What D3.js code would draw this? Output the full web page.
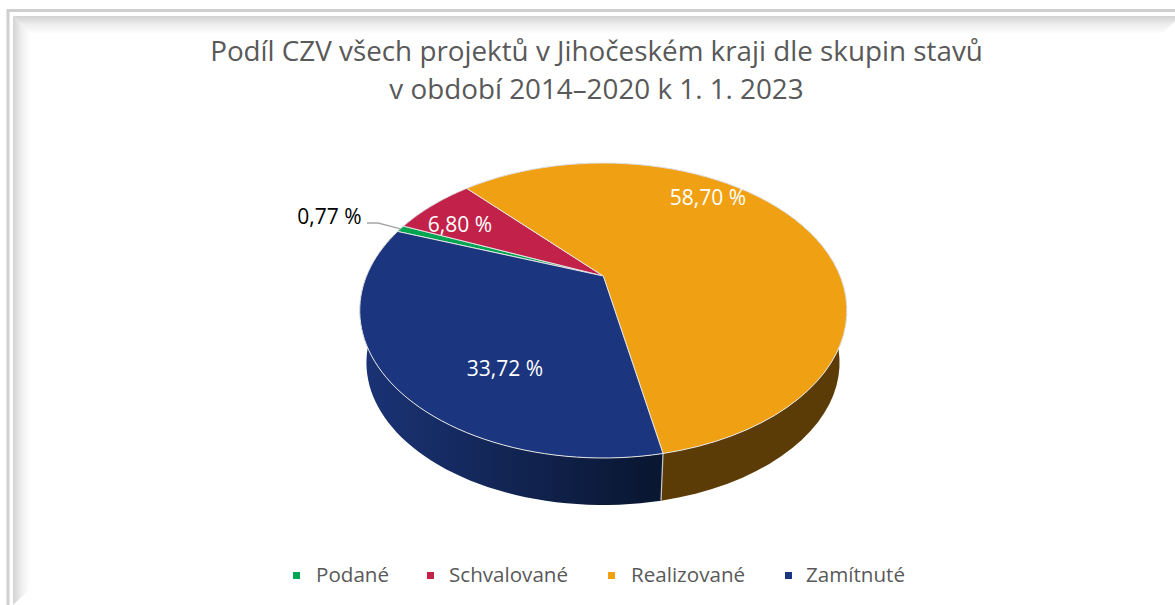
<!DOCTYPE html>
<html lang="cs"><head><meta charset="utf-8">
<script src="https://cdn.jsdelivr.net/npm/d3@7/dist/d3.min.js"></script>
<style>html,body{margin:0;padding:0;background:#fff;overflow:hidden}svg{display:block}text{font-family:"Open Sans","Noto Sans",sans-serif}</style>
</head><body><svg id="c" width="1175" height="605"></svg>
<script>
const categories = ["Podané","Schvalované","Realizované","Zamítnuté"];
const shares = [0.77,6.80,58.70,33.72];
const shareLabels = ["0,77 %","6,80 %","58,70 %","33,72 %"];
const colors = ["#00a651","#c2224a","#f0a013","#1b367e"];
const sideColors = [["#006a33","#006a33"],["#7a152f","#7a152f"],["#5c3c06","#5c3c06"],["#1a3375","#0a1733"]];
const titleLines = ["Podíl CZV všech projektů v Jihočeském kraji dle skupin stavů","v období 2014–2020 k 1. 1. 2023"];
const firstSliceDeg = -69.8;

const svg = d3.select("#c");
const defs = svg.append("defs");

// bevelled frame
const frameGrad = (id,x1,y1,x2,y2)=>{const g=defs.append("linearGradient").attr("id",id).attr("gradientUnits","userSpaceOnUse")
  .attr("x1",x1).attr("y1",y1).attr("x2",x2).attr("y2",y2);
  g.append("stop").attr("offset",0).attr("stop-color","#d2d2d2");
  g.append("stop").attr("offset",0.45).attr("stop-color","#ececec");
  g.append("stop").attr("offset",1).attr("stop-color","#ffffff");};
frameGrad("fTop",0,16,0,34); frameGrad("fLeft",13,0,30,0);
svg.append("path").attr("d","M13,16L1175,16L1175,21L1162,34L30,34Z").attr("fill","url(#fTop)");
svg.append("path").attr("d","M13,16L30,34L30,589L13,605Z").attr("fill","url(#fLeft)");
svg.append("path").attr("d","M8,605V10.5H1175").attr("fill","none").attr("stroke","#cfcfcf").attr("stroke-width",3);

// title
svg.append("g").selectAll("text").data(titleLines).join("text")
  .attr("x",596.5).attr("y",(d,i)=>61+i*38).attr("text-anchor","middle")
  .attr("font-size",27.8).attr("fill","#595959").text(d=>d);

// perspective disc mapping
const k=0.234, apexX=603.3, apexY=276;
const project=(theta,a,b,ax,ay)=>{const u=Math.sin(theta),v=-Math.cos(theta),w=1-k*v;return [ax+a*u/w,ay+b*v/w];};
const topPt=t=>project(t,236.8,139.4,apexX,apexY);
const botPt=t=>project(t,230,134.5,apexX-0.3,329.4);
const line=d3.line();

const pie=d3.pie().sort(null).value(d=>d)
  .startAngle(firstSliceDeg*Math.PI/180).endAngle((firstSliceDeg+360)*Math.PI/180);
const arcs=pie(shares);
const sample=(a,b,f)=>d3.range(0,61).map(i=>f(a+(b-a)*i/60));

// side walls
arcs.forEach((d,i)=>{
  const id="side"+i, g=defs.append("linearGradient").attr("id",id).attr("gradientUnits","userSpaceOnUse")
    .attr("x1",365).attr("y1",0).attr("x2",645).attr("y2",0);
  g.append("stop").attr("offset",0).attr("stop-color",sideColors[i][0]);
  g.append("stop").attr("offset",1).attr("stop-color",sideColors[i][1]);
  const pts=sample(d.startAngle,d.endAngle,topPt).concat(sample(d.startAngle,d.endAngle,botPt).reverse());
  svg.append("path").attr("d",line(pts)+"Z").attr("fill",`url(#${id})`);
});
// wall seam
const seam=arcs[3].startAngle;
svg.append("path").attr("d",line([topPt(seam),botPt(seam)])).attr("stroke","#c8c8c8").attr("stroke-width",1.2).attr("fill","none");

// top faces
svg.append("g").selectAll("path").data(arcs).join("path")
  .attr("d",d=>line([[apexX,apexY],...sample(d.startAngle,d.endAngle,topPt)])+"Z")
  .attr("fill",(d,i)=>colors[i]).attr("stroke","#e4e4e4").attr("stroke-width",1).attr("stroke-linejoin","round");

// data labels
const labelPos=[[329.5,217],[460,225],[708,198],[505,369]];
const labelFill=["#000","#fff","#fff","#fff"];
svg.append("g").selectAll("text").data(shareLabels).join("text")
  .attr("x",(d,i)=>labelPos[i][0]).attr("y",(d,i)=>labelPos[i][1]).attr("dy","0.35em").attr("text-anchor","middle")
  .attr("font-size",21).attr("fill",(d,i)=>labelFill[i]).text(d=>d);
// leader
const mid=(arcs[0].startAngle+arcs[0].endAngle)/2, mp=topPt(mid);
svg.append("path").attr("d",line([[367,223],[378,223],mp])).attr("fill","none").attr("stroke","#a6a6a6").attr("stroke-width",1.3);

// legend
const legendX=[293,427,608,785], textX=[316,449,631,806];
const lg=svg.append("g").selectAll("g").data(categories).join("g");
lg.append("rect").attr("x",(d,i)=>legendX[i]).attr("y",572).attr("width",7).attr("height",7).attr("fill",(d,i)=>colors[i]);
lg.append("text").attr("x",(d,i)=>textX[i]).attr("y",582).attr("font-size",20.6).attr("fill","#595959").text(d=>d);
</script></body></html>
